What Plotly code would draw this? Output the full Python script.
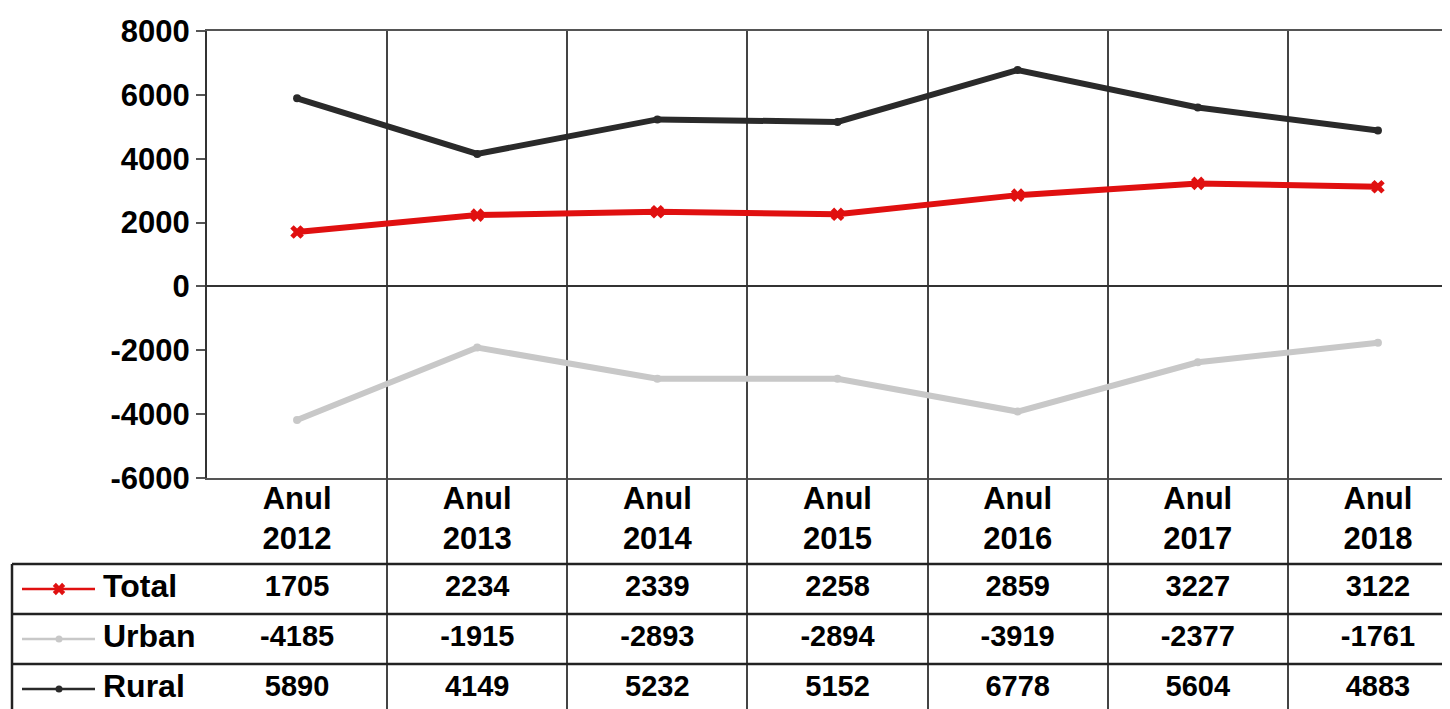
import plotly.graph_objects as go

# data
years = ["2012", "2013", "2014", "2015", "2016", "2017", "2018"]
series_names = ["Total", "Urban", "Rural"]
total = [1705, 2234, 2339, 2258, 2859, 3227, 3122]
urban = [-4185, -1915, -2893, -2894, -3919, -2377, -1761]
rural = [5890, 4149, 5232, 5152, 6778, 5604, 4883]
y_ticks = [-6000, -4000, -2000, 0, 2000, 4000, 6000, 8000]

# the page body adds an 8px offset, so the figure is 8px smaller
W, H = 1442, 701
OFF = 8
FONT = "Liberation Sans, Arial, sans-serif"
colors = {"Total": "#e01010", "Urban": "#c8c8c8", "Rural": "#2a2a2a"}
symbols = {"Total": "x", "Urban": "circle", "Rural": "circle"}
values = {"Total": total, "Urban": urban, "Rural": rural}

xs = list(range(len(years)))
bounds = [i - 0.5 for i in range(len(years) + 1)]


def px_x(p):
    return (p - OFF) / W


def px_y(p):
    return 1 - (p - OFF) / H


fig = go.Figure()

# lines in the chart area
for name in ["Rural", "Urban", "Total"]:
    fig.add_trace(go.Scatter(
        x=xs, y=values[name], mode="lines+markers", name=name,
        line=dict(color=colors[name], width=6),
        marker=dict(symbol=symbols[name], size=12 if name == "Total" else 8,
                    color=colors[name]),
        xaxis="x", yaxis="y", showlegend=False, hoverinfo="skip",
    ))

# data table header
fig.add_trace(go.Scatter(
    x=xs, y=[-1.36] * len(years), mode="text",
    text=[f"Anul<br>{y}" for y in years],
    textfont=dict(family=FONT, size=31, color="black", weight="bold"),
    xaxis="x2", yaxis="y2", showlegend=False, hoverinfo="skip",
))

# data table values
for r, name in enumerate(series_names):
    fig.add_trace(go.Scatter(
        x=xs, y=[r] * len(years), mode="text",
        text=[str(v) for v in values[name]],
        textfont=dict(family=FONT, size=29, color="black", weight="bold"),
        xaxis="x2", yaxis="y2", showlegend=False, hoverinfo="skip",
    ))

# legend keys + labels in the table's first column
for r, name in enumerate(series_names):
    fig.add_trace(go.Scatter(
        x=[22 - OFF, 95 - OFF], y=[r, r], mode="lines",
        line=dict(color=colors[name], width=2.5),
        xaxis="x3", yaxis="y2", showlegend=False, hoverinfo="skip",
    ))
    fig.add_trace(go.Scatter(
        x=[59 - OFF], y=[r], mode="markers",
        marker=dict(symbol=symbols[name], size=11 if name == "Total" else 7,
                    color=colors[name]),
        xaxis="x3", yaxis="y2", showlegend=False, hoverinfo="skip",
    ))
    fig.add_trace(go.Scatter(
        x=[103 - OFF], y=[r], mode="text", text=[name], textposition="middle right",
        textfont=dict(family=FONT, size=32, color="black", weight="bold"),
        xaxis="x3", yaxis="y2", showlegend=False, hoverinfo="skip",
    ))

x_dom = [px_x(207), 1]
plot_dom = [px_y(478), px_y(31)]
table_dom = [0, px_y(478)]

# table row lines and left border
left = px_x(12)
shapes = []
for yy in [-0.5, 0.5, 1.5]:
    shapes.append(dict(type="line", xref="paper", yref="y2", x0=left, x1=1,
                       y0=yy, y1=yy, line=dict(color="#222", width=2.5)))
shapes.append(dict(type="line", xref="paper", yref="y2", x0=left, x1=left,
                   y0=-0.5, y1=2.4, line=dict(color="#222", width=2.5)))

fig.update_layout(
    width=W, height=H,
    margin=dict(l=0, r=0, t=0, b=0, autoexpand=False),
    paper_bgcolor="white", plot_bgcolor="white",
    font=dict(family=FONT, color="black"),
    shapes=shapes,
    xaxis=dict(domain=x_dom, range=[-0.5, 6.4], anchor="y", automargin=False,
               tickvals=bounds, showticklabels=False, ticks="",
               showgrid=True, gridcolor="#444", gridwidth=2,
               showline=True, mirror=True, linecolor="#555", linewidth=2,
               zeroline=False, fixedrange=True),
    yaxis=dict(domain=plot_dom, range=[-6000, 8000], anchor="x", automargin=False,
               tickvals=y_ticks, ticktext=[str(v) for v in y_ticks],
               tickfont=dict(family=FONT, size=31, color="black", weight="bold"),
               ticks="outside", ticklen=9, tickwidth=2, tickcolor="#555",
               ticklabelstandoff=0,
               showgrid=False, zeroline=True, zerolinecolor="#333", zerolinewidth=2,
               showline=True, linecolor="#333", linewidth=2, fixedrange=True),
    xaxis2=dict(domain=x_dom, range=[-0.5, 6.4], anchor="y2", automargin=False,
                tickvals=bounds, showticklabels=False, ticks="",
                showgrid=True, gridcolor="#444", gridwidth=2,
                zeroline=False, showline=False, fixedrange=True),
    yaxis2=dict(domain=table_dom, range=[2.4, -2.22], anchor="x2", automargin=False,
                showticklabels=False, ticks="", showgrid=False,
                zeroline=False, showline=False, fixedrange=True),
    xaxis3=dict(domain=[0, px_x(207)], range=[0, 207 - OFF], anchor="y2",
                automargin=False, visible=False, fixedrange=True),
)

fig.write_html("out.html")
